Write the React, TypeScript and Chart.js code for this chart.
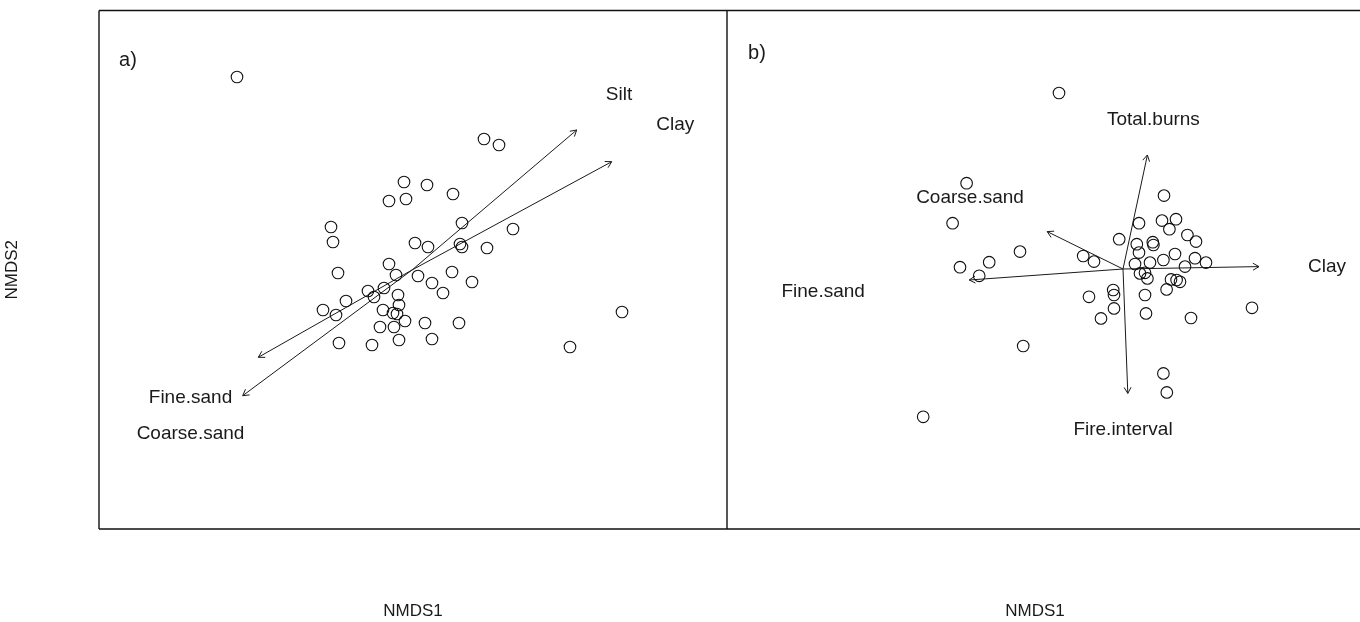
import React, { useEffect, useRef } from 'react';
import { Chart, registerables } from 'chart.js';

Chart.register(...registerables);

// ---------- Panel a ----------
const siteXA = [-0.875, 0.36, 0.435, 1.05, 0.79, -0.04, 0.075, 0.205, -0.115, -0.03, -0.405, -0.395, 0.25, 0.505, 0.015, 0.08, 0.24, 0.25, 0.375, -0.37, -0.115, -0.08, 0.03, 0.2, 0.3, 0.1, 0.155, -0.22, -0.19, -0.14, -0.07, -0.33, -0.445, -0.38, -0.065, -0.145, -0.095, -0.075, -0.035, -0.16, -0.09, 0.065, 0.235, -0.365, -0.2, -0.065, 0.1];
const siteYA = [0.965, 0.655, 0.625, -0.21, -0.385, 0.44, 0.425, 0.38, 0.345, 0.355, 0.215, 0.14, 0.235, 0.205, 0.135, 0.115, 0.13, 0.115, 0.11, -0.015, 0.03, -0.025, -0.03, -0.01, -0.06, -0.065, -0.115, -0.105, -0.135, -0.09, -0.125, -0.155, -0.2, -0.225, -0.175, -0.2, -0.215, -0.22, -0.255, -0.285, -0.285, -0.265, -0.265, -0.365, -0.375, -0.35, -0.345];
const envNamesA = ['Silt', 'Clay', 'Fine.sand', 'Coarse.sand'];
const envXA = [0.8235, 0.9985, -0.7685, -0.8465];
const envYA = [0.7, 0.5415, -0.4365, -0.6285];
const labelXA = [1.035, 1.316, -1.1075, -1.1075];
const labelYA = [0.875, 0.725, -0.6365, -0.82];
const rangeXA = [-1.565, 1.575];
const rangeYA = [-1.295, 1.2975];

// ---------- Panel b ----------
const siteXB = [-0.32, 0.205, 0.08, 0.195, 0.265, 0.232, -0.019, 0.069, 0.149, 0.152, 0.322, 0.365, -0.199, -0.145, 0.08, 0.06, 0.135, 0.202, 0.26, 0.31, 0.36, 0.415, 0.085, 0.122, 0.11, 0.24, 0.268, 0.285, 0.218, -0.049, -0.045, -0.17, 0.11, -0.045, -0.11, 0.115, 0.34, 0.645, 0.202, 0.219, -0.782, -0.852, -0.515, -0.669, -0.815, -0.719, -0.499, -0.999];
const siteYB = [0.88, 0.367, 0.229, 0.242, 0.249, 0.199, 0.149, 0.124, 0.134, 0.12, 0.17, 0.137, 0.065, 0.037, 0.082, 0.025, 0.032, 0.045, 0.075, 0.012, 0.054, 0.032, -0.022, -0.047, -0.019, -0.052, -0.055, -0.064, -0.102, -0.105, -0.13, -0.139, -0.13, -0.197, -0.247, -0.222, -0.245, -0.194, -0.522, -0.617, 0.429, 0.229, 0.087, 0.034, 0.009, -0.034, -0.385, -0.739];
const envNamesB = ['Total.burns', 'Clay', 'Fire.interval', 'Coarse.sand', 'Fine.sand'];
const envXB = [0.122, 0.68, 0.024, -0.379, -0.769];
const envYB = [0.57, 0.012, -0.622, 0.187, -0.055];
const labelXB = [0.152, 1.02, 0.0, -0.765, -1.499];
const labelYB = [0.745, 0.012, -0.805, 0.357, -0.114];
const rangeXB = [-1.98, 1.1];
const rangeYB = [-1.3, 1.2925];

// ---------- Panel tags / axis titles ----------
const panelTags = ['a)', 'b)'];
const tagX = [-1.42, -1.83];
const tagY = [1.05, 1.08];
const xTitle = 'NMDS1';
const yTitle = 'NMDS2';

const FONT = '"Liberation Sans", Arial, Helvetica, sans-serif';
const INK = '#1a1a1a';

type PanelCfg = {
  siteX: number[]; siteY: number[];
  envNames: string[]; envX: number[]; envY: number[];
  labelX: number[]; labelY: number[];
  rangeX: number[]; rangeY: number[];
  tag: string; tagX: number; tagY: number;
  showYTitle: boolean; openRight: boolean; drawLeft: boolean;
  padRight: number;
};

function makePlugin(cfg: PanelCfg) {
  return {
    id: 'ordination',
    afterDatasetsDraw(chart: any) {
      const { ctx, chartArea: a, scales } = chart;
      const x = scales.x, y = scales.y;
      ctx.save();
      // arrow heads
      ctx.strokeStyle = INK;
      ctx.lineWidth = 1;
      const ox = x.getPixelForValue(0), oy = y.getPixelForValue(0);
      cfg.envX.forEach((vx, i) => {
        const tx = x.getPixelForValue(vx), ty = y.getPixelForValue(cfg.envY[i]);
        const ang = Math.atan2(ty - oy, tx - ox);
        const L = 7, sp = Math.PI / 6;
        ctx.beginPath();
        ctx.moveTo(tx - L * Math.cos(ang - sp), ty - L * Math.sin(ang - sp));
        ctx.lineTo(tx, ty);
        ctx.lineTo(tx - L * Math.cos(ang + sp), ty - L * Math.sin(ang + sp));
        ctx.stroke();
      });
      // labels
      ctx.fillStyle = INK;
      ctx.textAlign = 'center';
      ctx.textBaseline = 'middle';
      ctx.font = `19px ${FONT}`;
      cfg.envNames.forEach((n, i) => {
        ctx.fillText(n, x.getPixelForValue(cfg.labelX[i]), y.getPixelForValue(cfg.labelY[i]));
      });
      ctx.font = `20px ${FONT}`;
      ctx.fillText(cfg.tag, x.getPixelForValue(cfg.tagX), y.getPixelForValue(cfg.tagY));
      // box
      ctx.strokeStyle = '#111';
      ctx.lineWidth = 1.4;
      const right = cfg.openRight ? chart.width : a.right;
      ctx.beginPath();
      ctx.moveTo(a.left, a.top);
      ctx.lineTo(right, a.top);
      ctx.moveTo(a.left, a.bottom);
      ctx.lineTo(right, a.bottom);
      if (cfg.drawLeft) {
        ctx.moveTo(a.left, a.top);
        ctx.lineTo(a.left, a.bottom);
      }
      if (!cfg.openRight) {
        ctx.moveTo(a.right, a.top);
        ctx.lineTo(a.right, a.bottom);
      }
      ctx.stroke();
      ctx.restore();
    },
  };
}

function Panel({ cfg, left, width }: { cfg: PanelCfg; left: number; width: number }) {
  const ref = useRef<HTMLCanvasElement | null>(null);
  useEffect(() => {
    if (!ref.current) return;
    const points = cfg.siteX.map((v, i) => ({ x: v, y: cfg.siteY[i] }));
    const arrowSets = cfg.envX.map((v, i) => ({
      type: 'scatter' as const,
      label: cfg.envNames[i],
      data: [{ x: 0, y: 0 }, { x: v, y: cfg.envY[i] }],
      showLine: true,
      borderColor: INK,
      borderWidth: 1,
      pointRadius: 0,
      fill: false,
    }));
    const titleFont = { family: FONT, size: 17, lineHeight: 1.2 };
    const chart = new Chart(ref.current, {
      type: 'scatter',
      data: {
        datasets: [
          {
            label: 'sites',
            data: points,
            pointRadius: 5.8,
            pointStyle: 'circle',
            borderColor: '#111',
            borderWidth: 1.1,
            backgroundColor: 'rgba(0,0,0,0)',
            pointHoverRadius: 5.8,
          },
          ...arrowSets,
        ] as any,
      },
      options: {
        animation: false,
        responsive: true,
        maintainAspectRatio: false,
        events: [],
        layout: { autoPadding: false, padding: { top: 10.5, right: cfg.padRight, bottom: 0, left: 0 } },
        plugins: { legend: { display: false }, tooltip: { enabled: false } },
        scales: {
          x: {
            type: 'linear',
            min: cfg.rangeX[0],
            max: cfg.rangeX[1],
            grid: { display: false, drawTicks: false },
            border: { display: false },
            ticks: { display: false },
            title: {
              display: true,
              text: xTitle,
              color: INK,
              font: titleFont,
              padding: { top: 72.6, bottom: 0 },
            },
          },
          y: {
            type: 'linear',
            display: cfg.showYTitle,
            min: cfg.rangeY[0],
            max: cfg.rangeY[1],
            grid: { display: false, drawTicks: false },
            border: { display: false },
            ticks: { display: false },
            title: {
              display: cfg.showYTitle,
              text: yTitle,
              color: INK,
              font: titleFont,
              padding: { top: 2, bottom: 76.6 },
            },
          },
        },
      },
      plugins: [makePlugin(cfg) as any],
    });
    return () => chart.destroy();
  }, [cfg]);
  return (
    <div style={{ position: 'absolute', left, top: 0, width, height: 622 }}>
      <canvas ref={ref} />
    </div>
  );
}

const cfgA: PanelCfg = {
  siteX: siteXA, siteY: siteYA,
  envNames: envNamesA, envX: envXA, envY: envYA,
  labelX: labelXA, labelY: labelYA,
  rangeX: rangeXA, rangeY: rangeYA,
  tag: panelTags[0], tagX: tagX[0], tagY: tagY[0],
  showYTitle: true, openRight: false, drawLeft: true, padRight: 1,
};

const cfgB: PanelCfg = {
  siteX: siteXB, siteY: siteYB,
  envNames: envNamesB, envX: envXB, envY: envYB,
  labelX: labelXB, labelY: labelYB,
  rangeX: rangeXB, rangeY: rangeYB,
  tag: panelTags[1], tagX: tagX[1], tagY: tagY[1],
  showYTitle: false, openRight: true, drawLeft: false, padRight: 17,
};

export default function App() {
  return (
    <div style={{ position: 'absolute', left: 0, top: 0, width: 1360, height: 622, overflow: 'hidden', background: '#fff' }}>
      <Panel cfg={cfgA} left={0} width={728} />
      <Panel cfg={cfgB} left={727} width={633} />
    </div>
  );
}
